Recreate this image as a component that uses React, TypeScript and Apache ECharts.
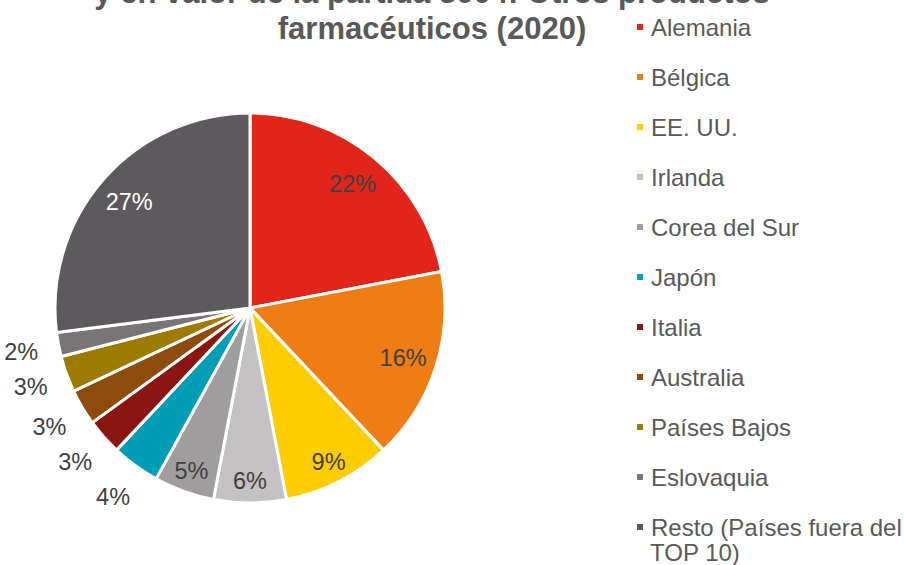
import React, { useEffect, useRef } from "react";
import * as echarts from "echarts";

// Share of exports by destination country (%)
const countries = [
  "Alemania",
  "Bélgica",
  "EE. UU.",
  "Irlanda",
  "Corea del Sur",
  "Japón",
  "Italia",
  "Australia",
  "Países Bajos",
  "Eslovaquia",
  "Resto (Países fuera del TOP 10)",
];
const shares = [22, 16, 9, 6, 5, 4, 3, 3, 3, 2, 27];
const sliceColors = [
  "#E1251B",
  "#EE7D14",
  "#FFCC00",
  "#C3C1C2",
  "#A09D9F",
  "#009DB7",
  "#8A1512",
  "#8D4B0C",
  "#9C7B00",
  "#797576",
  "#5C5A5D",
];
// Where each percentage label sits: 0 = inside (wide slices), 1 = inside (narrow slices), 2 = outside
const labelRing = [0, 0, 1, 1, 1, 2, 2, 2, 2, 2, 0];

const titleLines = ["y en valor de la partida 3004: Otros productos", "farmacéuticos (2020)"];

const FONT = "'Liberation Sans', Arial, sans-serif";
const CENTER: [number, number] = [250, 308];
const R = 195;

export default function App() {
  const ref = useRef<HTMLDivElement>(null);

  useEffect(() => {
    document.body.style.margin = "0";
    if (!ref.current) return;
    const chart = echarts.init(ref.current, undefined, { renderer: "svg" });

    const baseData = countries.map((name, i) => ({ name, value: shares[i] }));

    // Transparent ring whose mid-radius sets where the percentage labels go
    const labelSeries = (radius: [number, number], ring: number) => ({
      type: "pie" as const,
      silent: true,
      center: CENTER,
      radius,
      startAngle: 90,
      clockwise: true,
      itemStyle: { color: "rgba(0,0,0,0)" },
      labelLine: { show: false },
      emphasis: { disabled: true },
      data: baseData.map((d, i) => ({
        ...d,
        label: {
          show: labelRing[i] === ring,
          position: "inside",
          formatter: "{c}%",
          fontFamily: FONT,
          fontSize: 23.5,
          color: i === 10 ? "#FFFFFF" : "#404040",
        },
      })),
    });

    chart.setOption({
      animation: false,
      backgroundColor: "#FFFFFF",
      legend: {
        orient: "vertical",
        left: 630,
        top: 9,
        itemWidth: 8,
        itemHeight: 8,
        itemGap: 24,
        icon: "rect",
        selectedMode: false,
        data: countries,
        formatter: (name: string) =>
          name === countries[10] ? "Resto (Países fuera del" : name,
        textStyle: {
          fontFamily: FONT,
          fontSize: 24,
          lineHeight: 26,
          color: "#595959",
          padding: [0, 0, 0, 2],
        },
      },
      graphic: [
        {
          type: "text",
          x: 432,
          y: 10,
          style: {
            text: titleLines.join("\n"),
            textAlign: "center",
            textVerticalAlign: "middle",
            fontFamily: FONT,
            fontWeight: "bold",
            fontSize: 31,
            lineHeight: 36,
            fill: "#595959",
          },
        },
        {
          type: "text",
          x: 650,
          y: 552,
          style: {
            text: "TOP 10)",
            textVerticalAlign: "middle",
            fontFamily: FONT,
            fontSize: 24,
            lineHeight: 22,
            fill: "#595959",
          },
        },
      ],
      series: [
        {
          type: "pie",
          center: CENTER,
          radius: [0, R],
          startAngle: 90,
          clockwise: true,
          label: { show: false },
          labelLine: { show: false },
          emphasis: { disabled: true },
          itemStyle: { borderColor: "#FFFFFF", borderWidth: 3 },
          data: baseData.map((d, i) => ({
            ...d,
            itemStyle: { color: sliceColors[i] },
          })),
        },
        labelSeries([121, R], 0),
        labelSeries([145, R], 1),
        labelSeries([210, 250], 2),
      ],
    });

    return () => chart.dispose();
  }, []);

  return <div ref={ref} style={{ width: 904, height: 565 }} />;
}
